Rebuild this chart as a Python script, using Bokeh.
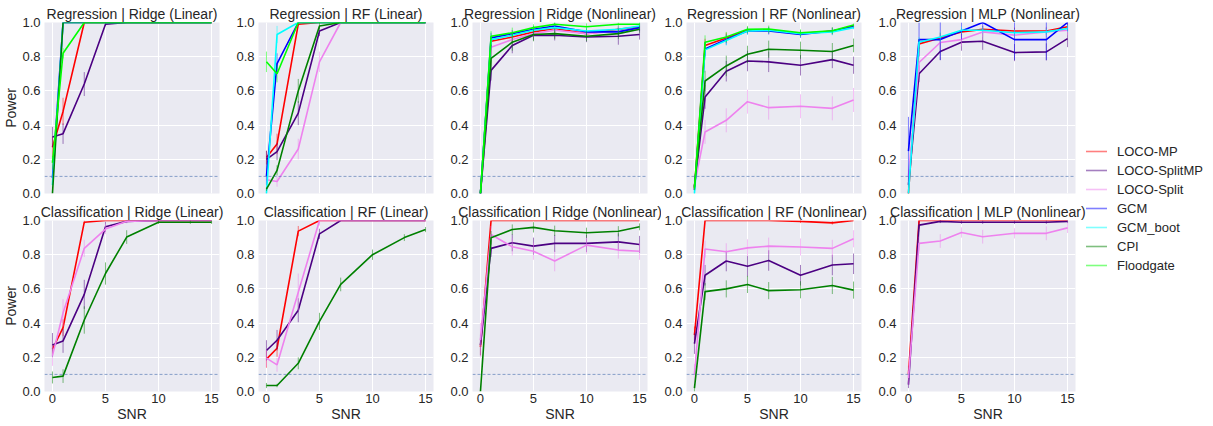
from bokeh.plotting import figure
from bokeh.models import Range1d, Span, Legend, LegendItem, ColumnDataSource, FixedTicker, NumeralTickFormatter, Spacer
from bokeh.layouts import row, column
from bokeh.embed import file_html
from bokeh.resources import INLINE

# ---------------- data ----------------
SNR = [0, 1, 3, 5, 7, 10, 13, 15]
METHODS = ["LOCO-MP", "LOCO-SplitMP", "LOCO-Split", "GCM", "GCM_boot", "CPI", "Floodgate"]
Y_TICKS = [0.0, 0.2, 0.4, 0.6, 0.8, 1.0]
X_TICKS = [0, 5, 10, 15]
ALPHA_LEVEL = 0.1

reg_ridge_lin = {
    "LOCO-MP":      [0.27, 0.48, 1.0, 1.0, 1.0, 1.0, 1.0, 1.0],
    "LOCO-SplitMP": [0.33, 0.35, 0.64, 0.99, 1.0, 1.0, 1.0, 1.0],
    "GCM":          [0.09, 1.0, 1.0, 1.0, 1.0, 1.0, 1.0, 1.0],
    "GCM_boot":     [0.05, 1.0, 1.0, 1.0, 1.0, 1.0, 1.0, 1.0],
    "CPI":          [0.0, 1.0, 1.0, 1.0, 1.0, 1.0, 1.0, 1.0],
    "Floodgate":    [0.18, 0.82, 1.0, 1.0, 1.0, 1.0, 1.0, 1.0],
}
reg_ridge_lin_err = {
    "LOCO-MP":      [0.06, 0.08, 0, 0, 0, 0, 0, 0],
    "LOCO-SplitMP": [0.06, 0.06, 0.07, 0.01, 0, 0, 0, 0],
    "GCM":          [0.02, 0, 0, 0, 0, 0, 0, 0],
    "GCM_boot":     [0.02, 0, 0, 0, 0, 0, 0, 0],
    "CPI":          [0.0, 0, 0, 0, 0, 0, 0, 0],
    "Floodgate":    [0.04, 0.03, 0, 0, 0, 0, 0, 0],
}

reg_rf_lin = {
    "LOCO-MP":      [0.21, 0.29, 0.99, 1.0, 1.0, 1.0, 1.0, 1.0],
    "LOCO-SplitMP": [0.20, 0.245, 0.47, 0.95, 1.0, 1.0, 1.0, 1.0],
    "LOCO-Split":   [0.08, 0.07, 0.26, 0.77, 1.0, 1.0, 1.0, 1.0],
    "GCM":          [0.10, 0.76, 1.0, 1.0, 1.0, 1.0, 1.0, 1.0],
    "GCM_boot":     [0.0, 0.93, 1.0, 1.0, 1.0, 1.0, 1.0, 1.0],
    "CPI":          [0.025, 0.135, 0.60, 0.98, 1.0, 1.0, 1.0, 1.0],
    "Floodgate":    [0.77, 0.70, 1.0, 1.0, 1.0, 1.0, 1.0, 1.0],
}
reg_rf_lin_err = {
    "LOCO-MP":      [0.04, 0.06, 0.01, 0, 0, 0, 0, 0],
    "LOCO-SplitMP": [0.05, 0.05, 0.07, 0.03, 0, 0, 0, 0],
    "LOCO-Split":   [0.03, 0.03, 0.06, 0.06, 0, 0, 0, 0],
    "GCM":          [0.05, 0.06, 0, 0, 0, 0, 0, 0],
    "GCM_boot":     [0.01, 0.05, 0, 0, 0, 0, 0, 0],
    "CPI":          [0.01, 0.03, 0.07, 0.02, 0, 0, 0, 0],
    "Floodgate":    [0.06, 0.05, 0, 0, 0, 0, 0, 0],
}

reg_ridge_nl = {
    "LOCO-MP":      [0.0, 0.89, 0.915, 0.945, 0.965, 0.935, 0.96, 0.975],
    "LOCO-SplitMP": [0.0, 0.72, 0.865, 0.925, 0.925, 0.915, 0.92, 0.93],
    "LOCO-Split":   [0.0, 0.855, 0.90, 0.935, 0.955, 0.935, 0.95, 0.96],
    "GCM":          [0.0, 0.91, 0.935, 0.96, 0.98, 0.945, 0.945, 0.97],
    "GCM_boot":     [0.0, 0.90, 0.925, 0.955, 0.97, 0.95, 0.96, 0.98],
    "CPI":          [0.0, 0.79, 0.885, 0.93, 0.935, 0.92, 0.935, 0.96],
    "Floodgate":    [0.0, 0.92, 0.94, 0.97, 0.99, 0.975, 0.99, 0.99],
}
reg_ridge_nl_err = {
    "LOCO-MP":      [0, 0.03, 0.03, 0.02, 0.02, 0.02, 0.02, 0.02],
    "LOCO-SplitMP": [0, 0.06, 0.045, 0.03, 0.03, 0.03, 0.05, 0.03],
    "LOCO-Split":   [0, 0.04, 0.03, 0.02, 0.02, 0.02, 0.02, 0.02],
    "GCM":          [0, 0.03, 0.02, 0.02, 0.02, 0.02, 0.02, 0.02],
    "GCM_boot":     [0, 0.03, 0.02, 0.02, 0.02, 0.02, 0.02, 0.02],
    "CPI":          [0, 0.08, 0.05, 0.04, 0.03, 0.03, 0.03, 0.02],
    "Floodgate":    [0, 0.03, 0.03, 0.02, 0.01, 0.02, 0.01, 0.01],
}

reg_rf_nl = {
    "LOCO-MP":      [0.03, 0.865, 0.91, 0.955, 0.955, 0.935, 0.95, 0.98],
    "LOCO-SplitMP": [0.04, 0.565, 0.715, 0.775, 0.77, 0.75, 0.783, 0.75],
    "LOCO-Split":   [0.05, 0.36, 0.428, 0.537, 0.502, 0.51, 0.498, 0.547],
    "GCM":          [0.02, 0.845, 0.90, 0.95, 0.95, 0.93, 0.95, 0.975],
    "GCM_boot":     [0.0, 0.84, 0.895, 0.95, 0.955, 0.935, 0.945, 0.97],
    "CPI":          [0.04, 0.658, 0.746, 0.814, 0.844, 0.838, 0.83, 0.866],
    "Floodgate":    [0.03, 0.885, 0.915, 0.96, 0.962, 0.94, 0.952, 0.985],
}
reg_rf_nl_err = {
    "LOCO-MP":      [0.01, 0.04, 0.03, 0.02, 0.02, 0.02, 0.02, 0.01],
    "LOCO-SplitMP": [0.02, 0.07, 0.06, 0.06, 0.06, 0.06, 0.05, 0.05],
    "LOCO-Split":   [0.03, 0.07, 0.07, 0.07, 0.07, 0.07, 0.07, 0.07],
    "GCM":          [0.01, 0.04, 0.03, 0.02, 0.02, 0.02, 0.02, 0.01],
    "GCM_boot":     [0.01, 0.04, 0.03, 0.02, 0.02, 0.02, 0.02, 0.01],
    "CPI":          [0.02, 0.06, 0.06, 0.05, 0.05, 0.05, 0.05, 0.04],
    "Floodgate":    [0.01, 0.04, 0.03, 0.02, 0.02, 0.02, 0.02, 0.01],
}

reg_mlp_nl = {
    "LOCO-MP":      [0.0, 0.875, 0.91, 0.945, 0.96, 0.95, 0.95, 0.975],
    "LOCO-SplitMP": [0.05, 0.70, 0.83, 0.885, 0.89, 0.824, 0.828, 0.906],
    "LOCO-Split":   [0.10, 0.766, 0.883, 0.90, 0.945, 0.926, 0.945, 0.955],
    "GCM":          [0.248, 0.90, 0.90, 0.95, 1.0, 0.90, 0.90, 1.0],
    "GCM_boot":     [0.0, 0.885, 0.915, 0.955, 0.955, 0.94, 0.945, 0.965],
}
reg_mlp_nl_err = {
    "LOCO-MP":      [0.01, 0.03, 0.03, 0.02, 0.02, 0.02, 0.02, 0.02],
    "LOCO-SplitMP": [0.03, 0.05, 0.05, 0.05, 0.05, 0.05, 0.05, 0.05],
    "LOCO-Split":   [0.04, 0.05, 0.04, 0.04, 0.03, 0.03, 0.03, 0.03],
    "GCM":          [0.20, 0.10, 0.12, 0.05, 0.05, 0.12, 0.12, 0.05],
    "GCM_boot":     [0.01, 0.03, 0.03, 0.02, 0.02, 0.02, 0.02, 0.02],
}

cls_ridge_lin = {
    "LOCO-MP":      [0.247, 0.373, 0.99, 1.0, 1.0, 1.0, 1.0, 1.0],
    "LOCO-SplitMP": [0.272, 0.296, 0.568, 0.963, 0.995, 1.0, 1.0, 1.0],
    "LOCO-Split":   [0.21, 0.46, 0.837, 0.95, 0.995, 1.0, 1.0, 1.0],
    "CPI":          [0.082, 0.09, 0.418, 0.69, 0.903, 0.99, 0.99, 0.99],
}
cls_ridge_lin_err = {
    "LOCO-MP":      [0.03, 0.05, 0.01, 0, 0, 0, 0, 0],
    "LOCO-SplitMP": [0.07, 0.07, 0.085, 0.03, 0.01, 0, 0, 0],
    "LOCO-Split":   [0.06, 0.08, 0.05, 0.03, 0.01, 0, 0, 0],
    "CPI":          [0.035, 0.04, 0.08, 0.065, 0.04, 0.01, 0.01, 0.01],
}

cls_rf_lin = {
    "LOCO-MP":      [0.189, 0.253, 0.938, 1.0, 1.0, 1.0, 1.0, 1.0],
    "LOCO-SplitMP": [0.24, 0.30, 0.475, 0.922, 1.0, 1.0, 1.0, 1.0],
    "LOCO-Split":   [0.195, 0.156, 0.58, 1.0, 1.0, 1.0, 1.0, 1.0],
    "CPI":          [0.035, 0.035, 0.165, 0.41, 0.626, 0.80, 0.90, 0.947],
}
cls_rf_lin_err = {
    "LOCO-MP":      [0.05, 0.05, 0.03, 0, 0, 0, 0, 0],
    "LOCO-SplitMP": [0.06, 0.06, 0.07, 0.03, 0, 0, 0, 0],
    "LOCO-Split":   [0.05, 0.04, 0.11, 0.03, 0, 0, 0, 0],
    "CPI":          [0.015, 0.01, 0.035, 0.05, 0.04, 0.03, 0.02, 0.015],
}

cls_ridge_nl = {
    "LOCO-MP":      [0.26, 1.0, 1.0, 1.0, 1.0, 1.0, 1.0, 1.0],
    "LOCO-SplitMP": [0.272, 0.837, 0.87, 0.85, 0.866, 0.866, 0.875, 0.86],
    "LOCO-Split":   [0.30, 0.918, 0.846, 0.82, 0.763, 0.856, 0.827, 0.82],
    "CPI":          [0.0, 0.899, 0.947, 0.96, 0.94, 0.928, 0.937, 0.963],
}
cls_ridge_nl_err = {
    "LOCO-MP":      [0.05, 0, 0, 0, 0, 0, 0, 0],
    "LOCO-SplitMP": [0.06, 0.05, 0.05, 0.05, 0.05, 0.05, 0.05, 0.05],
    "LOCO-Split":   [0.10, 0.05, 0.05, 0.05, 0.06, 0.05, 0.05, 0.05],
    "CPI":          [0.0, 0.04, 0.03, 0.03, 0.03, 0.03, 0.03, 0.02],
}

cls_rf_nl = {
    "LOCO-MP":      [0.33, 1.0, 1.0, 1.0, 1.0, 0.995, 0.986, 1.0],
    "LOCO-SplitMP": [0.28, 0.68, 0.763, 0.733, 0.766, 0.68, 0.74, 0.747],
    "LOCO-Split":   [0.10, 0.833, 0.817, 0.84, 0.85, 0.845, 0.837, 0.893],
    "CPI":          [0.02, 0.584, 0.60, 0.626, 0.59, 0.595, 0.62, 0.593],
}
cls_rf_nl_err = {
    "LOCO-MP":      [0.05, 0, 0, 0, 0, 0.01, 0.01, 0],
    "LOCO-SplitMP": [0.06, 0.06, 0.06, 0.06, 0.06, 0.06, 0.06, 0.06],
    "LOCO-Split":   [0.06, 0.05, 0.05, 0.05, 0.05, 0.05, 0.05, 0.05],
    "CPI":          [0.02, 0.05, 0.05, 0.05, 0.05, 0.05, 0.05, 0.05],
}

cls_mlp_nl = {
    "LOCO-MP":      [0.10, 1.0, 1.0, 1.0, 1.0, 1.0, 1.0, 1.0],
    "LOCO-SplitMP": [0.04, 0.973, 0.995, 0.99, 0.99, 0.99, 0.99, 0.995],
    "LOCO-Split":   [0.08, 0.866, 0.88, 0.93, 0.905, 0.925, 0.925, 0.957],
}
cls_mlp_nl_err = {
    "LOCO-MP":      [0.05, 0.02, 0.01, 0, 0, 0, 0, 0],
    "LOCO-SplitMP": [0.02, 0.02, 0.01, 0.01, 0.01, 0.01, 0.01, 0.01],
    "LOCO-Split":   [0.04, 0.04, 0.04, 0.03, 0.04, 0.03, 0.04, 0.03],
}

TOP_TITLES = ["Regression | Ridge (Linear)", "Regression | RF (Linear)", "Regression | Ridge (Nonlinear)",
              "Regression | RF (Nonlinear)", "Regression | MLP (Nonlinear)"]
BOTTOM_TITLES = ["Classification | Ridge (Linear)", "Classification | RF (Linear)",
                 "Classification | Ridge (Nonlinear)", "Classification | RF (Nonlinear)",
                 "Classification | MLP (Nonlinear)"]
TOP_DATA = [(reg_ridge_lin, reg_ridge_lin_err), (reg_rf_lin, reg_rf_lin_err), (reg_ridge_nl, reg_ridge_nl_err),
            (reg_rf_nl, reg_rf_nl_err), (reg_mlp_nl, reg_mlp_nl_err)]
BOTTOM_DATA = [(cls_ridge_lin, cls_ridge_lin_err), (cls_rf_lin, cls_rf_lin_err), (cls_ridge_nl, cls_ridge_nl_err),
               (cls_rf_nl, cls_rf_nl_err), (cls_mlp_nl, cls_mlp_nl_err)]

# ---------------- style ----------------
COLORS = {"LOCO-MP": "red", "LOCO-SplitMP": "indigo", "LOCO-Split": "violet", "GCM": "blue",
          "GCM_boot": "cyan", "CPI": "green", "Floodgate": "lime"}
FONT = "Liberation Sans"
TXT = "#262626"
BG = "#EAEAF2"
FW, FH = 175, 171


def make_panel(title, vals, errs, col, bottom):
    lb = 38 if col == 0 else 23
    rb = 11 if col == 4 else 14
    p = figure(title=title, frame_width=FW, frame_height=FH,
               x_range=Range1d(-0.75, 15.75), y_range=Range1d(0, 1),
               output_backend="svg", toolbar_location=None,
               background_fill_color=BG, border_fill_color="white", outline_line_color=None,
               min_border_left=lb, min_border_right=rb, min_border_top=0,
               min_border_bottom=0 if bottom else 8)
    p.title.align = "center"
    p.title.text_font = FONT
    p.title.text_font_size = "14px"
    p.title.text_font_style = "normal"
    p.title.text_color = TXT
    p.title.standoff = 1

    p.xaxis.ticker = FixedTicker(ticks=X_TICKS)
    p.yaxis.ticker = FixedTicker(ticks=Y_TICKS)
    p.xgrid.ticker = FixedTicker(ticks=X_TICKS)
    p.ygrid.ticker = FixedTicker(ticks=Y_TICKS)
    p.yaxis.formatter = NumeralTickFormatter(format="0.0")
    for ax in (p.xaxis, p.yaxis):
        ax.axis_line_color = None
        ax.major_tick_line_color = None
        ax.minor_tick_line_color = None
        ax.major_tick_out = 0
        ax.major_tick_in = 0
        ax.minor_tick_out = 0
        ax.minor_tick_in = 0
        ax.major_label_text_font = FONT
        ax.major_label_text_font_size = "13px"
        ax.major_label_text_color = TXT
        ax.axis_label_text_font = FONT
        ax.axis_label_text_font_size = "14px"
        ax.axis_label_text_font_style = "normal"
        ax.axis_label_text_color = TXT
    p.yaxis.major_label_standoff = 4
    p.xaxis.major_label_standoff = 2
    p.grid.grid_line_color = "white"
    p.grid.grid_line_width = 1

    if col == 0:
        p.yaxis.axis_label = "Power"
        p.yaxis.axis_label_standoff = 0
    if bottom:
        p.xaxis.axis_label = "SNR"
        p.xaxis.axis_label_standoff = 0
    else:
        p.xaxis.visible = False

    p.add_layout(Span(location=ALPHA_LEVEL, dimension="width", line_color="#4C72B0",
                      line_dash="3 2", line_width=0.8, line_alpha=0.8))

    for m in METHODS:
        if m not in vals:
            continue
        v, e = vals[m], errs[m]
        src = ColumnDataSource(dict(x=SNR, y=v,
                                    lo=[a - b for a, b in zip(v, e)],
                                    hi=[a + b for a, b in zip(v, e)]))
        p.segment(x0="x", y0="lo", x1="x", y1="hi", source=src,
                  line_color=COLORS[m], line_alpha=0.5, line_width=1)
        p.line(x="x", y="y", source=src, line_color=COLORS[m], line_width=1.6)
    return p


tops = [make_panel(TOP_TITLES[i], *TOP_DATA[i], i, False) for i in range(5)]
bots = [make_panel(BOTTOM_TITLES[i], *BOTTOM_DATA[i], i, True) for i in range(5)]

LH = 300
lg = figure(width=125, height=LH, x_range=Range1d(0, 1), y_range=Range1d(0, 1),
            output_backend="svg", toolbar_location=None, outline_line_color=None,
            min_border_left=0, min_border_right=0, min_border_top=0, min_border_bottom=0)
lg.axis.visible = False
lg.grid.visible = False
items = []
for m in METHODS:
    # legend proxy: a single empty (NaN) point, so nothing is drawn in the frame
    r = lg.line(x=[SNR[0]], y=[float("nan")], line_color=COLORS[m], line_width=1.6, line_alpha=0.5)
    items.append(LegendItem(label=m, renderers=[r]))
leg = Legend(items=items, location=(-6, LH - 273), padding=0, margin=0, spacing=3,
             glyph_width=27, glyph_height=16, label_height=16, label_standoff=10,
             label_text_font=FONT, label_text_font_size="13px", label_text_color=TXT,
             border_line_color=None, background_fill_alpha=0)
lg.add_layout(leg, "center")

layout = row(column(Spacer(height=3), row(*tops), row(*bots)), lg)

open("out.html", "w").write(file_html(layout, INLINE))
